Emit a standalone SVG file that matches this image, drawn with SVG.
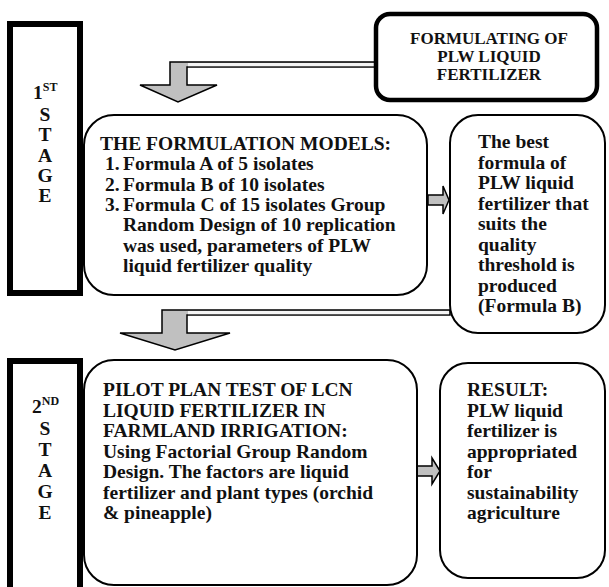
<svg xmlns="http://www.w3.org/2000/svg" width="609" height="587" viewBox="0 0 609 587">
<style>
text{font-family:'Liberation Serif','Times New Roman','DejaVu Serif',serif;font-weight:bold;fill:#111;font-size:19.5px}
.stage{fill:none;stroke:#000;stroke-width:6}
.box{fill:#fff;stroke:#000;stroke-width:2}
.top{fill:#fff;stroke:#000;stroke-width:4.5}
.arr{fill:#c0c0c0;stroke:#000;stroke-width:1.5;stroke-linejoin:miter}
.band{fill:#f4f4f4;stroke:none}
.c{text-anchor:middle}
.sup{font-size:12px}
.f17{font-size:17px}
</style>
<rect width="609" height="587" fill="#fff"/>
<g id="stage1">
<rect class="stage" x="10" y="24" width="70" height="269"/>
<text x="33" y="99">1<tspan class="sup" dy="-8">ST</tspan></text>
<text class="c" x="45" y="121">S</text>
<text class="c" x="45" y="141.3">T</text>
<text class="c" x="45" y="161.6">A</text>
<text class="c" x="45" y="182">G</text>
<text class="c" x="45" y="202.3">E</text>
</g>
<g id="stage2">
<rect class="stage" x="10" y="361" width="70" height="240"/>
<text x="32" y="413">2<tspan class="sup" dy="-8">ND</tspan></text>
<text class="c" x="45" y="435">S</text>
<text class="c" x="45" y="456">T</text>
<text class="c" x="45" y="477">A</text>
<text class="c" x="45" y="498">G</text>
<text class="c" x="45" y="519">E</text>
</g>
<g id="connectors">
<path class="arr" d="M376,62 H170 V85 H140 L178,102 L217,85 H187 V67 H376 Z"/>
<rect class="band" x="188" y="63" width="187" height="3.2"/>
<path class="arr" d="M450,310 H162 V333 H120 L175,350 L230,333 H187 V315 H450 Z"/>
<rect class="band" x="188" y="311" width="261" height="3.2"/>
<path class="arr" d="M428,195 H443 V186 L449,200 L443,214 V205 H428 Z"/>
<path class="arr" d="M417,466 H432 V458 L440,471 L432,484 V476 H417 Z"/>
</g>
<g id="formulating">
<rect class="top" x="376" y="14" width="221" height="86" rx="14"/>
<text class="c f17" x="489" y="44">FORMULATING OF</text>
<text class="c f17" x="489" y="62">PLW LIQUID</text>
<text class="c f17" x="489" y="80">FERTILIZER</text>
</g>
<g id="models">
<rect class="box" x="84" y="115" width="343" height="180" rx="30"/>
<text x="100" y="150">THE FORMULATION MODELS:</text>
<text x="105" y="170.3">1.</text><text x="123" y="170.3">Formula A of 5 isolates</text>
<text x="105" y="190.6">2.</text><text x="123" y="190.6">Formula B of 10 isolates</text>
<text x="105" y="211">3.</text><text x="123" y="211">Formula C of 15 isolates Group</text>
<text x="123" y="231.3">Random Design of 10 replication</text>
<text x="123" y="251.6">was used, parameters of PLW</text>
<text x="123" y="272">liquid fertilizer quality</text>
</g>
<g id="best">
<rect class="box" x="450" y="115" width="155" height="218" rx="28"/>
<text x="478" y="148">The best</text>
<text x="478" y="168.5">formula of</text>
<text x="478" y="189">PLW liquid</text>
<text x="478" y="209.5">fertilizer that</text>
<text x="478" y="230">suits the</text>
<text x="478" y="250.5">quality</text>
<text x="478" y="271">threshold is</text>
<text x="478" y="291.5">produced</text>
<text x="478" y="312">(Formula B)</text>
</g>
<g id="pilot">
<rect class="box" x="84" y="360" width="333" height="225" rx="30"/>
<text x="103" y="396">PILOT PLAN TEST OF LCN</text>
<text x="103" y="416.5">LIQUID FERTILIZER IN</text>
<text x="103" y="437">FARMLAND IRRIGATION:</text>
<text x="103" y="457.5">Using Factorial Group Random</text>
<text x="103" y="478">Design. The factors are liquid</text>
<text x="103" y="498.5">fertilizer and plant types (orchid</text>
<text x="103" y="519">&amp; pineapple)</text>
</g>
<g id="result">
<rect class="box" x="440" y="363" width="165" height="215" rx="28"/>
<text x="467" y="396">RESULT:</text>
<text x="467" y="416.5">PLW liquid</text>
<text x="467" y="437">fertilizer is</text>
<text x="467" y="457.5">appropriated</text>
<text x="467" y="478">for</text>
<text x="467" y="498.5">sustainability</text>
<text x="467" y="519">agriculture</text>
</g>
</svg>
